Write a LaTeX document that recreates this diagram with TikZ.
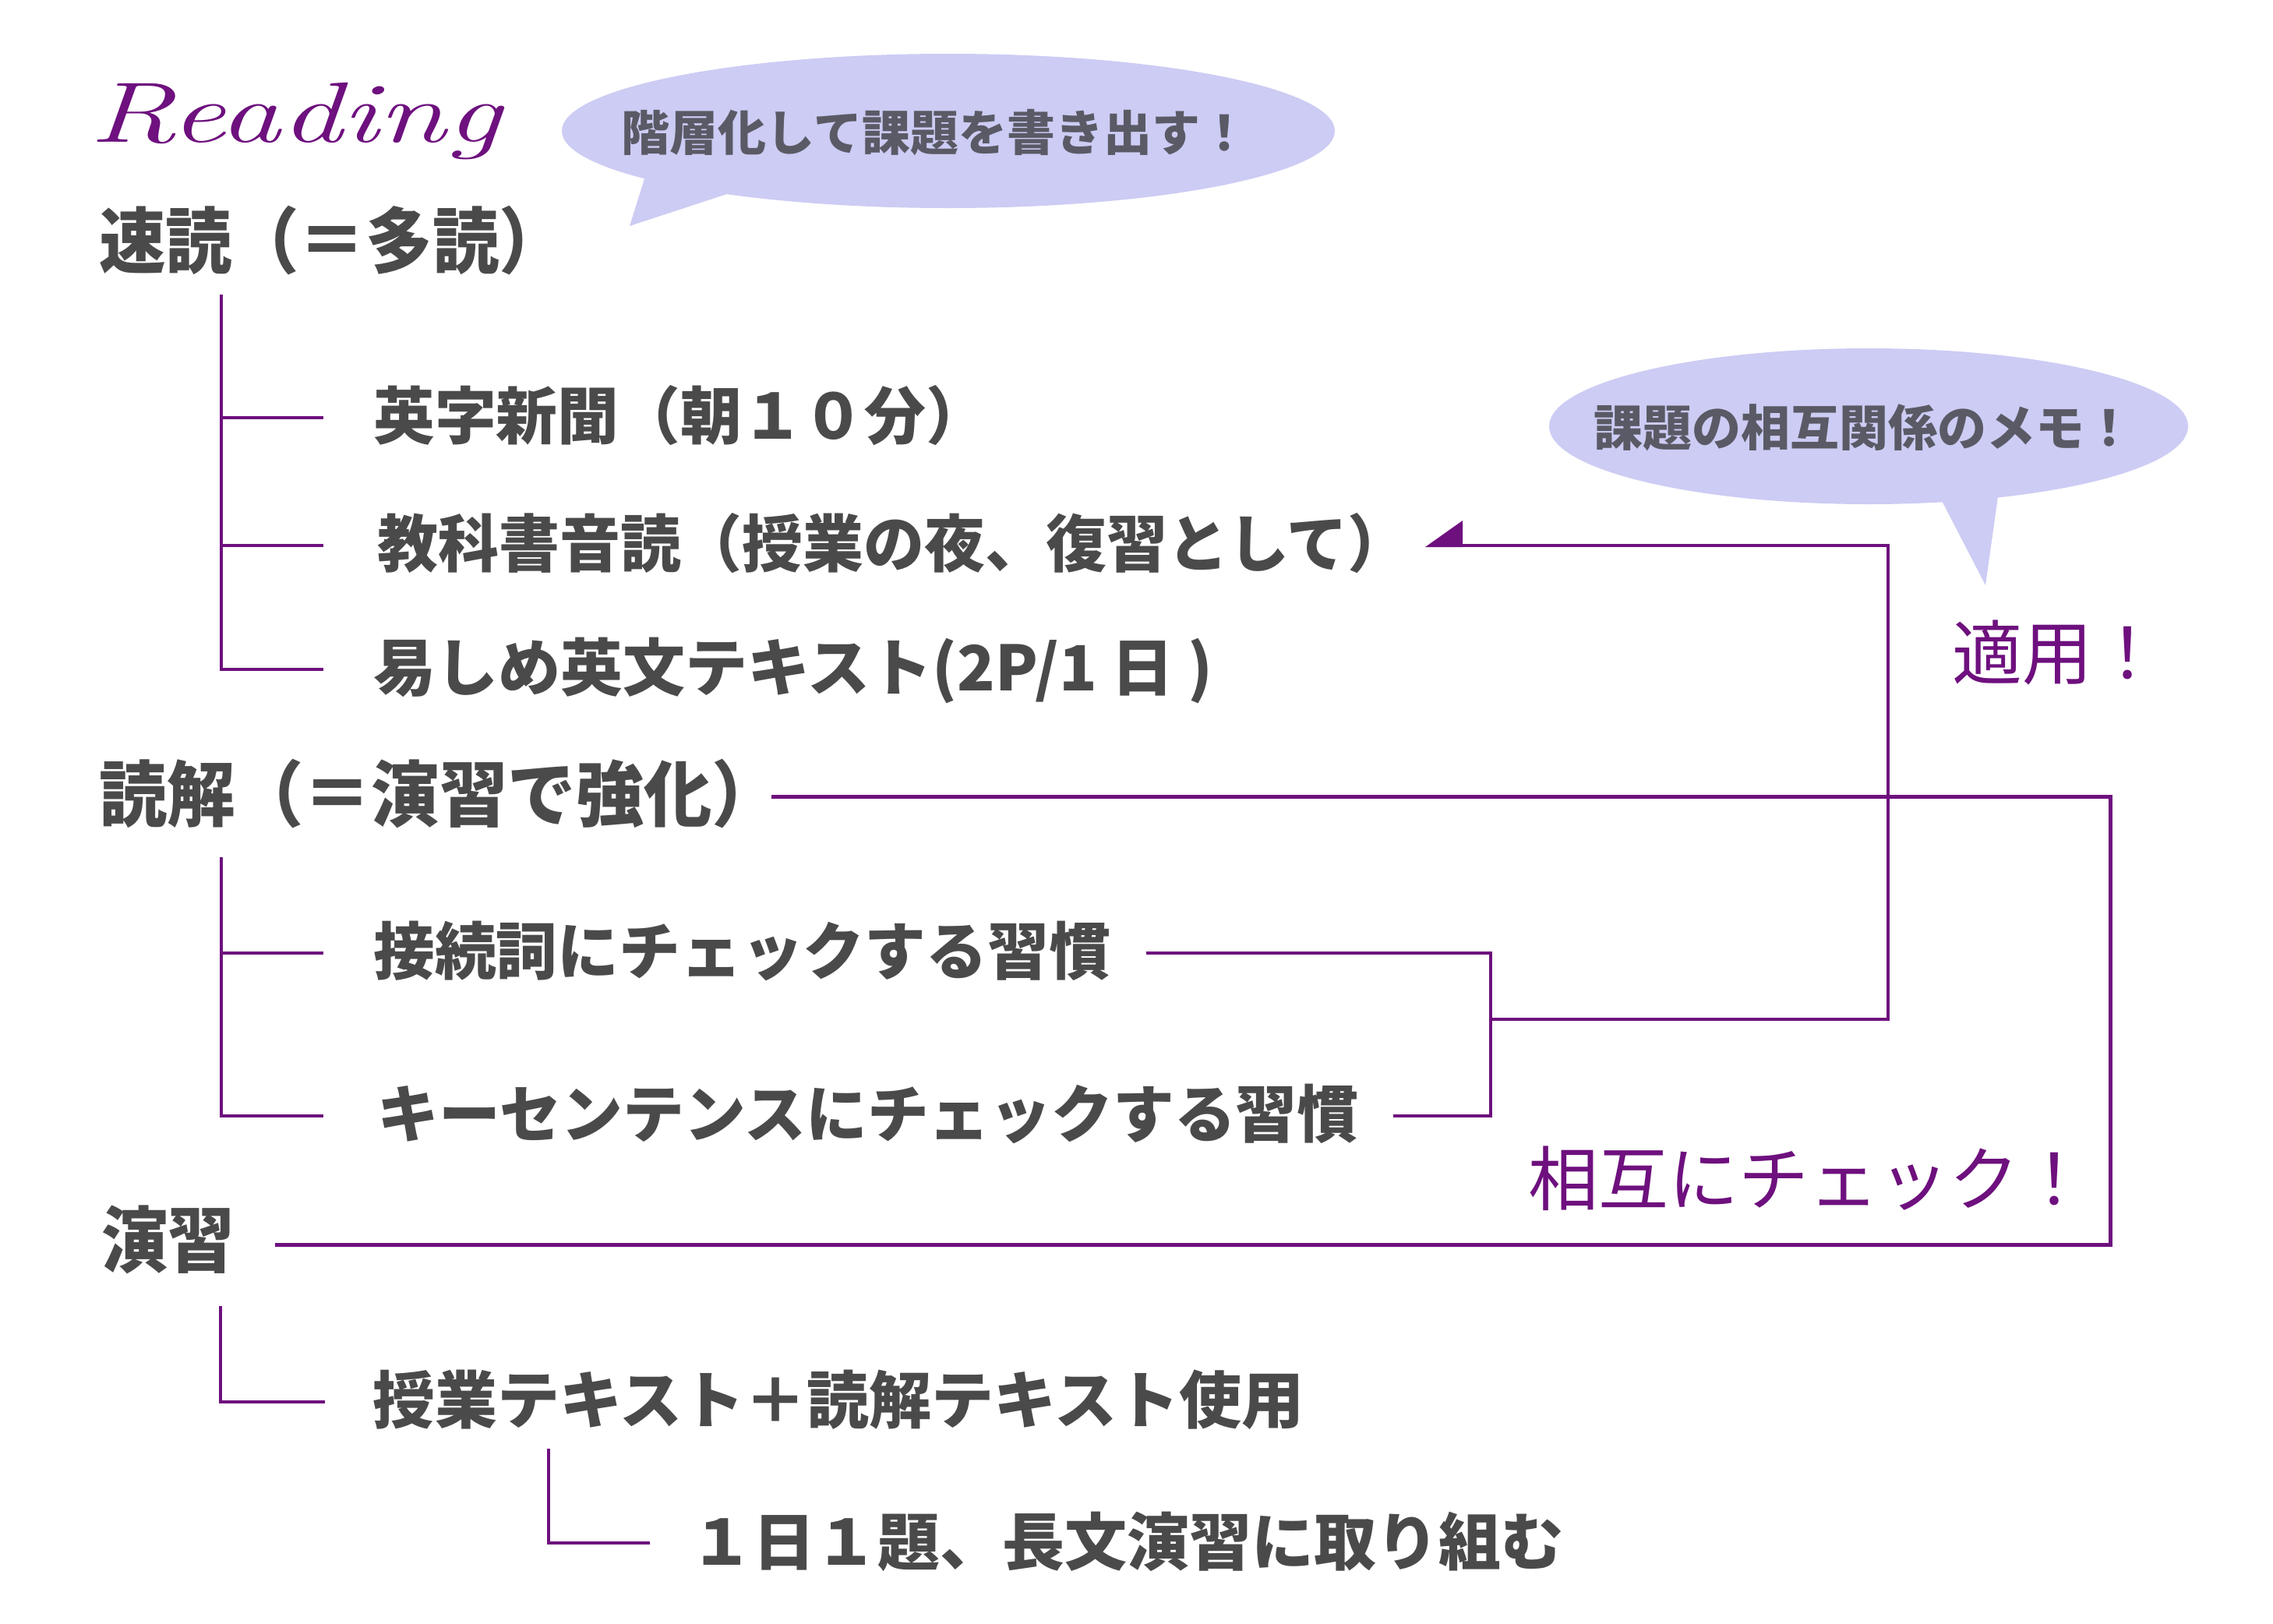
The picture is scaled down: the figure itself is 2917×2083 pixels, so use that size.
\documentclass[tikz,border=0pt]{standalone}
\usepackage{fontspec}
\newfontfamily\jp{Noto Sans CJK JP}
\definecolor{pur}{RGB}{110,16,126}
\definecolor{bub}{RGB}{204,204,244}
\definecolor{txt}{RGB}{74,74,74}
\definecolor{btxt}{RGB}{90,90,102}
\newcommand\hdx[1]{\scalebox{0.93}[1]{#1}}
\newcommand\itx[1]{\scalebox{0.985}[1]{#1}}
\tikzset{
  hd/.style={anchor=base west, inner sep=0pt, text=txt, font=\jp\bfseries\fontsize{92}{100}\selectfont},
  itm/.style={anchor=base west, inner sep=0pt, text=txt, font=\jp\bfseries\fontsize{80}{90}\selectfont},
  bt/.style={inner sep=0pt, text=btxt, font=\jp\bfseries\fontsize{62}{70}\selectfont},
  plabel/.style={anchor=base west, inner sep=0pt, text=pur, font=\jp\fontsize{90}{96}\selectfont},
  tree/.style={draw=pur, line width=3.5pt, line join=miter},
  conn/.style={draw=pur, line width=5pt, line join=miter},
  connthin/.style={draw=pur, line width=4pt, line join=miter},
}
\begin{document}
\begin{tikzpicture}[x=1pt,y=-1pt]
\useasboundingbox[fill=white] (0,0) rectangle (2917,2083);

% title
\node[anchor=base west, inner sep=0pt, text=pur, font=\fontsize{110}{120}\selectfont\itshape] (title) at (114,182) {\scalebox{1.43}[1]{Reading}};

% bubble 1
\fill[bub] (830,220) -- (808,290) -- (945,245) -- cycle;
\fill[bub] (1217,168) ellipse [x radius=496, y radius=99];
\node[bt] (b1) at (1200,170) {階層化して課題を書き出す！};

% bubble 2
\fill[bub] (2488,635) -- (2548,751) -- (2565,630) -- cycle;
\fill[bub] (2398,547) ellipse [x radius=410, y radius=100];
\node[bt, font=\jp\bfseries\fontsize{63}{70}\selectfont] (b2) at (2392,549) {課題の相互関係のメモ！};

% headings and items
\node[hd] (h1) at (127,343) {\hdx{速読（＝多読）}};
\node[itm] (i1) at (479,563) {\itx{英字新聞（朝１０分）}};
\node[itm] (i2) at (484,727) {\scalebox{0.975}[1]{教科書音読（授業の夜、復習として）}};
\node[itm] (i3) at (479,886) {易しめ英文テキスト(2P/1 日 )};

\node[hd] (h2) at (127,1053) {\scalebox{0.95}[1]{読解（＝演習で強化）}};
\node[itm] (i4) at (479,1250) {\itx{接続詞にチェックする習慣}};
\node[itm] (i5) at (484,1459) {\itx{キーセンテンスにチェックする習慣}};

\node[hd] (h3) at (130,1625) {\hdx{演習}};
\node[itm] (i6) at (478,1826) {授業テキスト＋読解テキスト使用};
\node[itm] (i7) at (886,2008) {１日１題、長文演習に取り組む};

\node[plabel] (p1) at (2505,871) {適用！};
\node[plabel] (p2) at (1961,1546) {相互にチェック！};

% tree 1
\coordinate (a0) at (284,378);
\coordinate (a1) at (284,536); \coordinate (a1e) at (415,536);
\coordinate (a2) at (284,700); \coordinate (a2e) at (415,700);
\coordinate (a3) at (284,859); \coordinate (a3e) at (415,859);
\draw[tree] (a0) -- (a3) -- (a3e);
\draw[tree] (a1) -- (a1e);
\draw[tree] (a2) -- (a2e);

% tree 2
\coordinate (g0) at (284,1100);
\coordinate (g1) at (284,1223); \coordinate (g1e) at (415,1223);
\coordinate (g2) at (284,1432); \coordinate (g2e) at (415,1432);
\draw[tree] (g0) -- (g2) -- (g2e);
\draw[tree] (g1) -- (g1e);

% tree 3
\coordinate (k0) at (283,1676);
\coordinate (k1) at (283,1799); \coordinate (k1e) at (417,1799);
\draw[tree] (k0) -- (k1) -- (k1e);

% tree 4
\coordinate (m0) at (704,1859);
\coordinate (m1) at (704,1980); \coordinate (m1e) at (834,1980);
\draw[tree] (m0) -- (m1) -- (m1e);

% mutual check connector
\coordinate (c1) at (990,1022);
\coordinate (c2) at (2708,1022);
\coordinate (c3) at (2708,1597);
\coordinate (c4) at (353,1597);
\draw[conn] (c1) -- (c2) -- (c3) -- (c4);

% habit bracket
\coordinate (d1) at (1471,1223);
\coordinate (d2) at (1913,1223);
\coordinate (d3) at (1913,1432);
\coordinate (d4) at (1788,1432);
\draw[connthin] (d1) -- (d2) -- (d3) -- (d4);

% apply connector with arrow
\coordinate (e1) at (1913,1308);
\coordinate (e2) at (2423,1308);
\coordinate (e3) at (2423,700);
\coordinate (e4) at (1875,700);
\draw[connthin] (e1) -- (e2) -- (e3) -- (e4);
\coordinate (tip) at (1829,702);
\fill[pur] (tip) -- (1877,668) -- (1877,702) -- cycle;
\end{tikzpicture}
\end{document}
